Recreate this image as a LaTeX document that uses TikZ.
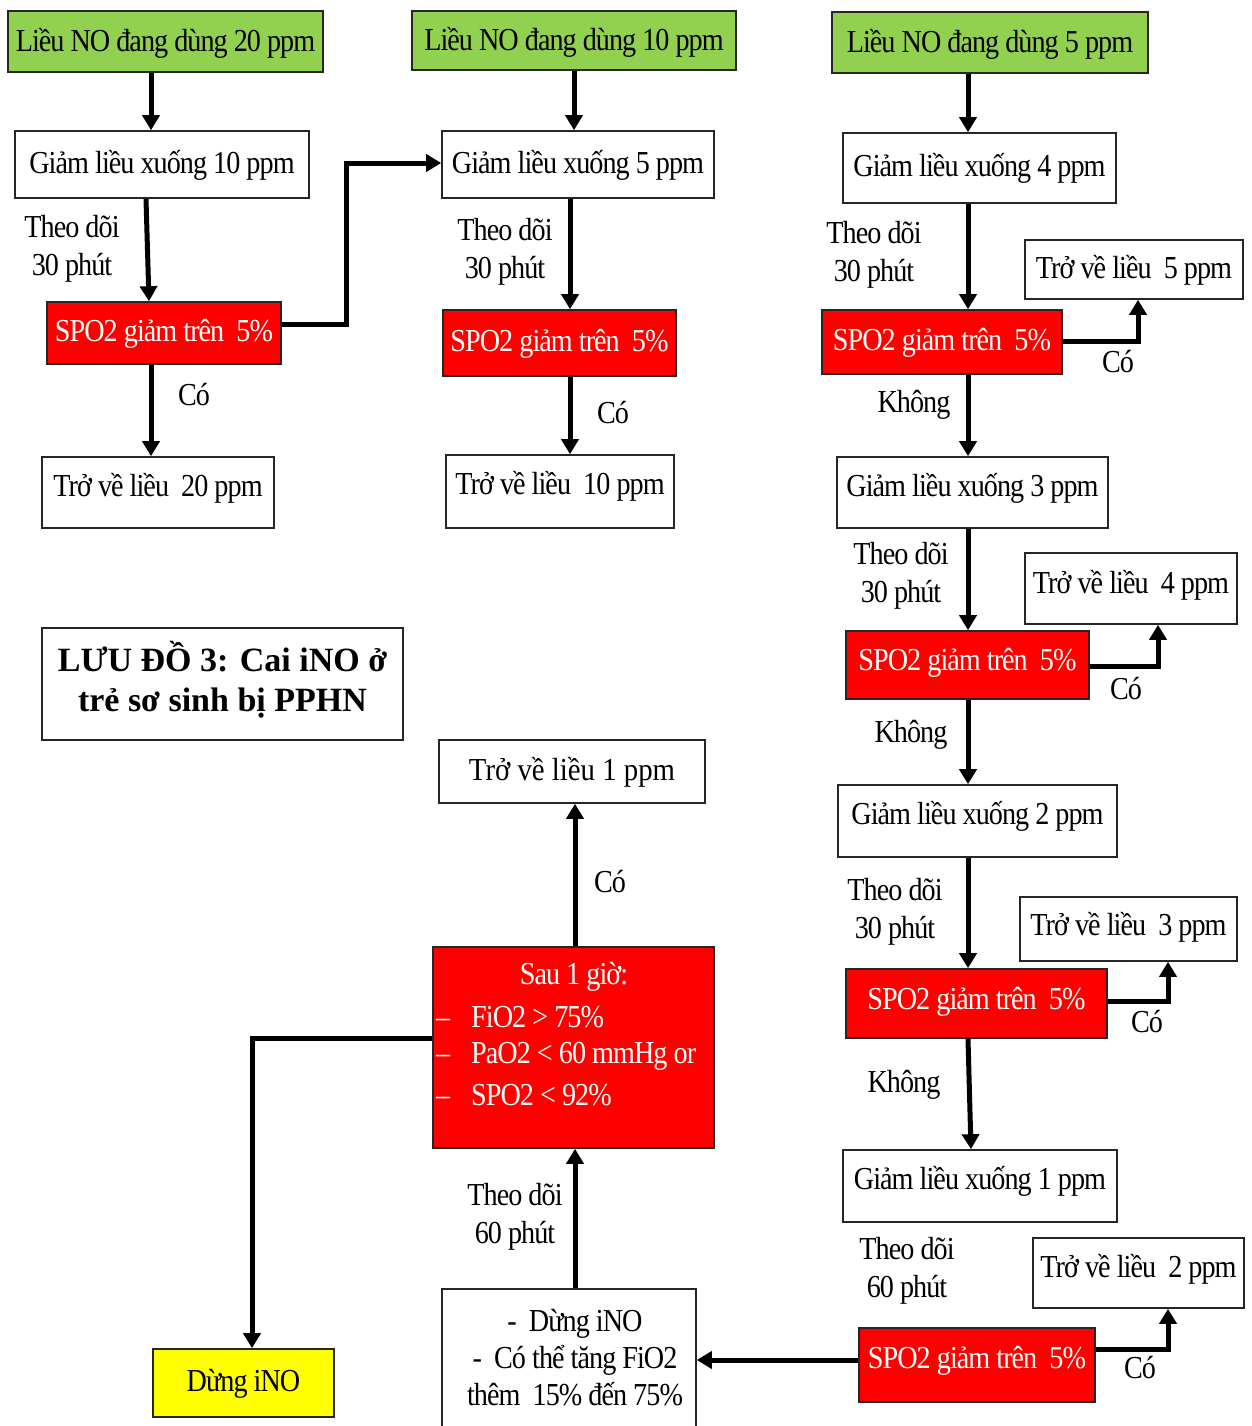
\documentclass[tikz,border=0pt]{standalone}
\usepackage{fontspec}
\setmainfont{Liberation Serif}[FakeStretch=0.88, LetterSpace=-3]
\newfontfamily\headfont{Liberation Serif}
\newfontfamily\looserfont{Liberation Serif}[FakeStretch=0.9]
\usetikzlibrary{arrows.meta}
\definecolor{boxgreen}{RGB}{146,208,80}
\definecolor{boxred}{RGB}{255,0,0}
\definecolor{boxyellow}{RGB}{255,255,0}
\newcommand\up[2]{\raisebox{#1pt}{#2}}
\tikzset{
  box/.style={draw=black!85, line width=1.6pt, inner sep=0pt,
    text height=25.6pt, text depth=8pt, font=\fontsize{32}{38}\selectfont},
  greenbox/.style={box, fill=boxgreen},
  redbox/.style={box, fill=boxred, text=white},
  yellowbox/.style={box, fill=boxyellow},
  lbl/.style={inner sep=0pt, align=center, font=\fontsize{32}{38}\selectfont},
  arr/.style={line width=5pt, line join=miter, -{Triangle[length=15pt,width=17pt]}},
}
\begin{document}
\begin{tikzpicture}[x=1pt,y=-1pt]
\useasboundingbox (0,0) rectangle (1251,1426);

% ---- first column: 20 ppm ----
\node[greenbox, minimum width=315pt, minimum height=61pt] (G20) at (165.5,41.5) {\up{-1}{Liều NO đang dùng 20 ppm}};
\node[box, minimum width=294pt, minimum height=67pt] (D10) at (162,164.5) {Giảm liều xuống 10 ppm};
\node[redbox, minimum width=234pt, minimum height=62pt] (S1) at (164,333) {SPO2 giảm trên~ 5\%};
\node[box, minimum width=232pt, minimum height=71pt] (R20) at (158,492.5) {\up{5}{Trở về liều~ 20 ppm}};
\node[lbl] (L1) at (72,249) {Theo dõi\\30 phút};
\node[lbl] (C1) at (194,395) {Có};

% ---- second column: 10 ppm ----
\node[greenbox, minimum width=324pt, minimum height=59pt] (G10) at (574,40.5) {\up{-1}{Liều NO đang dùng 10 ppm}};
\node[box, minimum width=272pt, minimum height=67pt] (D5) at (578,164.5) {Giảm liều xuống 5 ppm};
\node[redbox, minimum width=233pt, minimum height=66pt] (S2) at (559.5,343) {SPO2 giảm trên~ 5\%};
\node[box, minimum width=228pt, minimum height=73pt] (R10) at (560,491.5) {\up{6}{Trở về liều~ 10 ppm}};
\node[lbl] (L2) at (505,252) {Theo dõi\\30 phút};
\node[lbl] (C2) at (613,413) {Có};

% ---- third column: 5 ppm down to 1 ppm ----
\node[greenbox, minimum width=316pt, minimum height=61pt] (G5) at (990,42.5) {\up{-1}{Liều NO đang dùng 5 ppm}};
\node[box, minimum width=273pt, minimum height=70pt] (D4) at (979.5,168) {Giảm liều xuống 4 ppm};
\node[redbox, minimum width=240pt, minimum height=64pt] (S3) at (942,342) {SPO2 giảm trên~ 5\%};
\node[box, minimum width=218pt, minimum height=59pt] (R5) at (1134,269.5) {Trở về liều~ 5 ppm};
\node[lbl] (L3) at (874,255) {Theo dõi\\30 phút};
\node[lbl] (C3) at (1118,362) {Có};
\node[lbl] (K3) at (914,405) {Không};

\node[box, minimum width=271pt, minimum height=71pt] (D3) at (972.5,492.5) {\up{5}{Giảm liều xuống 3 ppm}};
\node[box, minimum width=212pt, minimum height=71pt] (R4) at (1131,588.5) {\up{4}{Trở về liều~ 4 ppm}};
\node[redbox, minimum width=243pt, minimum height=68pt] (S4) at (967.5,665) {\up{3}{SPO2 giảm trên~ 5\%}};
\node[lbl] (L4) at (901,576) {Theo dõi\\30 phút};
\node[lbl] (C4) at (1126,689) {Có};
\node[lbl] (K4) at (911,735) {Không};

\node[box, minimum width=279pt, minimum height=72pt] (D2) at (977.5,821) {\up{5}{Giảm liều xuống 2 ppm}};
\node[box, minimum width=217pt, minimum height=64pt] (R3) at (1128.5,929) {\up{2}{Trở về liều~ 3 ppm}};
\node[redbox, minimum width=261pt, minimum height=69pt] (S5) at (976.5,1003.5) {\up{3}{SPO2 giảm trên~ 5\%}};
\node[lbl] (L5) at (895,912) {Theo dõi\\30 phút};
\node[lbl] (C5) at (1147,1022) {Có};
\node[lbl] (K5) at (904,1085) {Không};

\node[box, minimum width=274pt, minimum height=72pt] (D1) at (980,1186) {\up{5}{Giảm liều xuống 1 ppm}};
\node[box, minimum width=211pt, minimum height=70pt] (R2) at (1138.5,1273) {\up{4}{Trở về liều~ 2 ppm}};
\node[redbox, minimum width=236pt, minimum height=74pt] (S6) at (977,1365) {\up{5}{SPO2 giảm trên~ 5\%}};
\node[lbl] (L6) at (907,1271) {Theo dõi\\60 phút};
\node[lbl] (C6) at (1140,1368) {Có};

% ---- title ----
\node[draw=black!85, line width=1.6pt, minimum width=361pt, minimum height=112pt] (T) at (222.5,684) {};
\node[lbl, font=\headfont\bfseries\fontsize{34}{40}\selectfont] (Tt) at (222.5,680) {LƯU ĐỒ 3: Cai iNO ở\\trẻ sơ sinh bị PPHN};

% ---- final stage ----
\node[box, minimum width=266pt, minimum height=63pt, font=\looserfont\fontsize{32}{38}\selectfont] (R1) at (572,771.5) {Trở về liều 1 ppm};
\node[lbl] (C7) at (610,882) {Có};
\node[box, fill=boxred, minimum width=281pt, minimum height=201pt] (Sau) at (573.5,1047.5) {};
\node[lbl, text=white] (SauH) at (574,977) {Sau 1 giờ:};
\node[lbl, text=white, anchor=west] (SauA) at (436,1017) {\makebox[35pt][l]{–}FiO2 > 75\%};
\node[lbl, text=white, anchor=west] (SauB) at (436,1056) {\makebox[35pt][l]{–}PaO2 < 60 mmHg or};
\node[lbl, text=white, anchor=west] (SauC) at (436,1095) {\makebox[35pt][l]{–}SPO2 < 92\%};

\node[box, minimum width=254pt, minimum height=151pt] (B) at (569,1364.5) {};
\node[lbl, font=\fontsize{32}{37}\selectfont] (Bt) at (575,1358) {-~~Dừng iNO\\-~~Có thể tăng FiO2\\thêm~~15\% đến 75\%};
\node[lbl] (L7) at (515,1217) {Theo dõi\\60 phút};

\node[yellowbox, minimum width=181pt, minimum height=68pt] (Y) at (243.5,1383) {Dừng iNO};

% ---- connectors ----
\draw[arr] (151,0 |- G20.south) -- (151,0 |- D10.north);
\draw[arr] (146,0 |- D10.south) -- (149,0 |- S1.north);
\draw[arr] (151,0 |- S1.south) -- (151,0 |- R20.north);
\draw[arr] (S1.east |- 0,324) -- (346,324) -- (346,163) -- (D5.west |- 0,163);

\draw[arr] (574,0 |- G10.south) -- (574,0 |- D5.north);
\draw[arr] (570,0 |- D5.south) -- (570,0 |- S2.north);
\draw[arr] (570,0 |- S2.south) -- (570,0 |- R10.north);

\draw[arr] (968,0 |- G5.south) -- (968,0 |- D4.north);
\draw[arr] (968,0 |- D4.south) -- (968,0 |- S3.north);
\draw[arr] (S3.east |- 0,341) -- (1138,341) -- (1138,0 |- R5.south);
\draw[arr] (968,0 |- S3.south) -- (968,0 |- D3.north);
\draw[arr] (968,0 |- D3.south) -- (968,0 |- S4.north);
\draw[arr] (S4.east |- 0,666) -- (1158,666) -- (1158,0 |- R4.south);
\draw[arr] (968,0 |- S4.south) -- (968,0 |- D2.north);
\draw[arr] (968,0 |- D2.south) -- (968,0 |- S5.north);
\draw[arr] (S5.east |- 0,1001) -- (1168,1001) -- (1168,0 |- R3.south);
\draw[arr] (968,0 |- S5.south) -- (971,0 |- D1.north);
\draw[arr] (S6.east |- 0,1349) -- (1168,1349) -- (1168,0 |- R2.south);
\draw[arr] (S6.west |- 0,1360) -- (B.east |- 0,1360);

\draw[arr] (575,0 |- B.north) -- (575,0 |- Sau.south);
\draw[arr] (575,0 |- Sau.north) -- (575,0 |- R1.south);
\draw[arr] (Sau.west |- 0,1038) -- (252,1038) -- (252,0 |- Y.north);
\end{tikzpicture}
\end{document}
